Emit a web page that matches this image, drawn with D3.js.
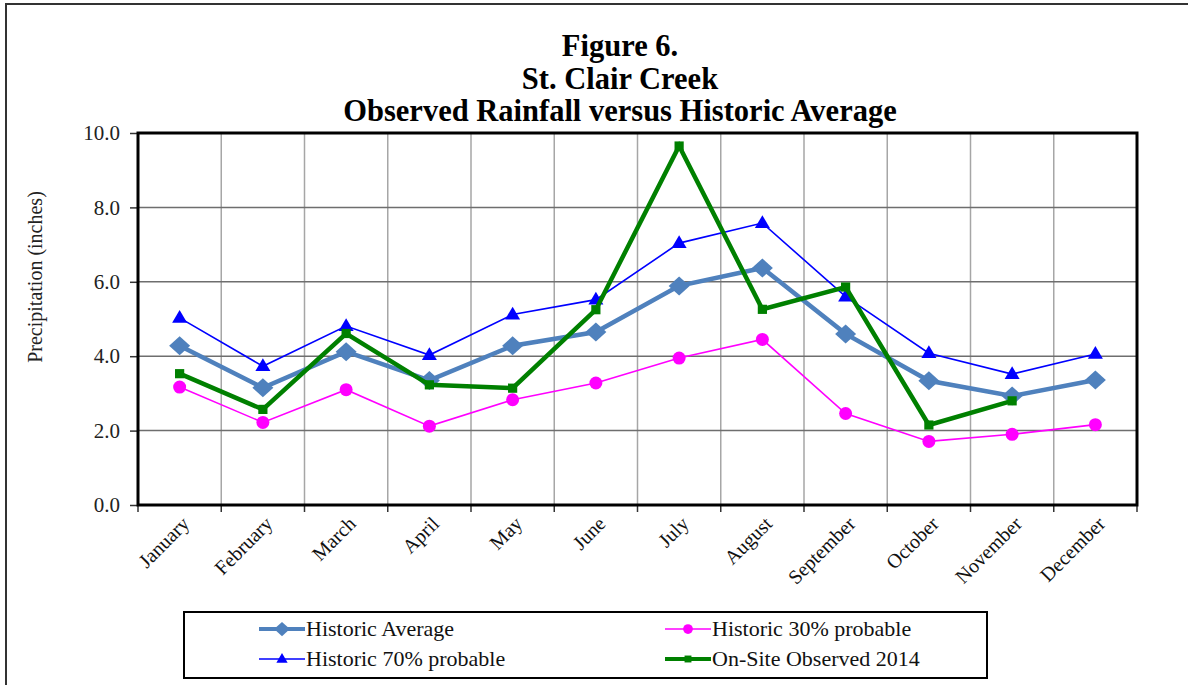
<!DOCTYPE html>
<html>
<head>
<meta charset="utf-8">
<script src="https://cdn.jsdelivr.net/npm/d3@7"></script>
<style>
  html, body { margin: 0; padding: 0; background: #fff; }
  svg { display: block; }
  svg text { font-family: "Liberation Serif", "Times New Roman", serif; }
</style>
</head>
<body>
<svg id="chart" width="1188" height="685"></svg>
<script>
// Monthly precipitation (inches), St. Clair Creek
const months = ["January", "February", "March", "April", "May", "June",
                "July", "August", "September", "October", "November", "December"];
const historicAverage = [4.28, 3.15, 4.12, 3.35, 4.28, 4.65, 5.89, 6.37, 4.60, 3.34, 2.93, 3.36];
const historic30 = [3.17, 2.22, 3.10, 2.12, 2.83, 3.28, 3.95, 4.45, 2.46, 1.71, 1.90, 2.16];
const historic70 = [5.03, 3.73, 4.81, 4.03, 5.12, 5.52, 7.04, 7.58, 5.60, 4.08, 3.52, 4.06];
const observed2014 = [3.53, 2.57, 4.61, 3.23, 3.14, 5.25, 9.65, 5.26, 5.86, 2.15, 2.80, null];
const yTicks = [0, 2, 4, 6, 8, 10];
const titleLines = ["Figure 6.", "St. Clair Creek", "Observed Rainfall versus Historic Average"];
const seriesNames = ["Historic Average", "Historic 30% probable", "Historic 70% probable", "On-Site Observed 2014"];

const svg = d3.select("#chart");
const plot = { left: 138, right: 1137, top: 133, bottom: 505 };

// outer frame
svg.append("path")
  .attr("d", "M6,690 L6,4 L1195,4")
  .attr("fill", "none").attr("stroke", "#333").attr("stroke-width", 2);

// title
const title = svg.append("g").attr("font-weight", "bold")
  .attr("text-anchor", "middle").attr("fill", "#000");
titleLines.forEach((t, i) => {
  title.append("text").attr("x", 620).attr("y", 56 + i * 32.5)
    .style("font-size", "30.5px").text(t);
});

const x = d3.scaleBand().domain(months).range([plot.left, plot.right]).padding(0);
const y = d3.scaleLinear().domain([0, 10]).range([plot.bottom, plot.top]);
const cx = m => x(m) + x.bandwidth() / 2;

// grid
const grid = svg.append("g");
grid.selectAll("line.v").data(months.slice(1)).join("line")
  .attr("x1", d => x(d)).attr("x2", d => x(d))
  .attr("y1", plot.top).attr("y2", plot.bottom)
  .attr("stroke", "#a6a6a6").attr("stroke-width", 1.5);
grid.selectAll("line.h").data(yTicks.slice(1, -1)).join("line")
  .attr("x1", plot.left).attr("x2", plot.right)
  .attr("y1", d => y(d)).attr("y2", d => y(d))
  .attr("stroke", "#6e6e6e").attr("stroke-width", 1.5);

// y axis
const yAxis = svg.append("g").attr("transform", `translate(${plot.left},0)`)
  .call(d3.axisLeft(y).tickValues(yTicks).tickFormat(d3.format(".1f")).tickSize(8).tickPadding(10));
yAxis.select(".domain").remove();
yAxis.selectAll(".tick line").attr("stroke", "#333").attr("stroke-width", 1.5);
yAxis.selectAll(".tick text")
  .style("font-family", "'Liberation Serif', serif")
  .style("font-size", "21px").attr("fill", "#222");

// x axis: ticks at category boundaries
const xTickPos = months.map(m => x(m)).concat([plot.right]);
svg.append("g").selectAll("line").data(xTickPos).join("line")
  .attr("x1", d => d).attr("x2", d => d)
  .attr("y1", plot.bottom).attr("y2", plot.bottom + 7)
  .attr("stroke", "#333").attr("stroke-width", 1.5);
svg.append("g").selectAll("text").data(months).join("text")
  .attr("transform", d => `translate(${cx(d) + 11},${plot.bottom + 20}) rotate(-45)`)
  .attr("text-anchor", "end").style("font-size", "20px").attr("fill", "#111")
  .text(d => d);

// y axis title
svg.append("text")
  .attr("transform", "translate(42,277) rotate(-90)")
  .attr("text-anchor", "middle").style("font-size", "20px").attr("fill", "#222")
  .text("Precipitation (inches)");

// plot border
svg.append("rect")
  .attr("x", plot.left).attr("y", plot.top)
  .attr("width", plot.right - plot.left).attr("height", plot.bottom - plot.top)
  .attr("fill", "none").attr("stroke", "#000").attr("stroke-width", 3);

// marker shapes (half-width w, half-height h)
const marker = {
  diamond: (w, h) => `M0,${-h}L${w},0L0,${h}L${-w},0Z`,
  square: (w) => `M${-w},${-w}H${w}V${w}H${-w}Z`,
  circle: (r) => `M${r},0A${r},${r} 0 1,1 ${-r},0A${r},${r} 0 1,1 ${r},0Z`,
  triangle: (w) => `M0,${-w * 1.05}L${w},${w * 0.65}L${-w},${w * 0.65}Z`
};

// series
const series = [
  { name: seriesNames[2], values: historic70, color: "#0000ff", width: 1.6, shape: s => marker.triangle(7.5 * s) },
  { name: seriesNames[0], values: historicAverage, color: "#4f81bd", width: 4.5, shape: s => marker.diamond(10.5 * s, 9.5 * s) },
  { name: seriesNames[1], values: historic30, color: "#ff00ff", width: 1.6, shape: s => marker.circle(6.5 * s) },
  { name: seriesNames[3], values: observed2014, color: "#008000", width: 4.5, shape: s => marker.square(4.6 * s) }
];

const line = d3.line()
  .defined(d => d.v != null)
  .x(d => cx(d.m)).y(d => y(d.v));

series.forEach(s => {
  const pts = months.map((m, i) => ({ m, v: s.values[i] }));
  const g = svg.append("g");
  g.append("path").datum(pts).attr("d", line)
    .attr("fill", "none").attr("stroke", s.color).attr("stroke-width", s.width)
    .attr("stroke-linejoin", "miter");
  g.selectAll("path.pt").data(pts.filter(d => d.v != null)).join("path")
    .attr("class", "pt")
    .attr("transform", d => `translate(${cx(d.m)},${y(d.v)})`)
    .attr("d", s.shape(1))
    .attr("fill", s.color);
});

// legend
const legend = svg.append("g");
legend.append("rect").attr("x", 184).attr("y", 612).attr("width", 803).attr("height", 66)
  .attr("fill", "#fff").attr("stroke", "#000").attr("stroke-width", 2);
const legendItems = [
  { s: series[1], x: 259, y: 629 },
  { s: series[2], x: 665, y: 629 },
  { s: series[0], x: 259, y: 659 },
  { s: series[3], x: 665, y: 659 }
];
legendItems.forEach(it => {
  const g = legend.append("g");
  g.append("line").attr("x1", it.x).attr("x2", it.x + 46).attr("y1", it.y).attr("y2", it.y)
    .attr("stroke", it.s.color).attr("stroke-width", Math.min(it.s.width, 4));
  g.append("path")
    .attr("transform", `translate(${it.x + 23},${it.y})`)
    .attr("d", it.s.shape(0.75))
    .attr("fill", it.s.color);
  g.append("text").attr("x", it.x + 47).attr("y", it.y + 7)
    .style("font-size", "22px").attr("fill", "#111").text(it.s.name);
});
</script>
</body>
</html>
